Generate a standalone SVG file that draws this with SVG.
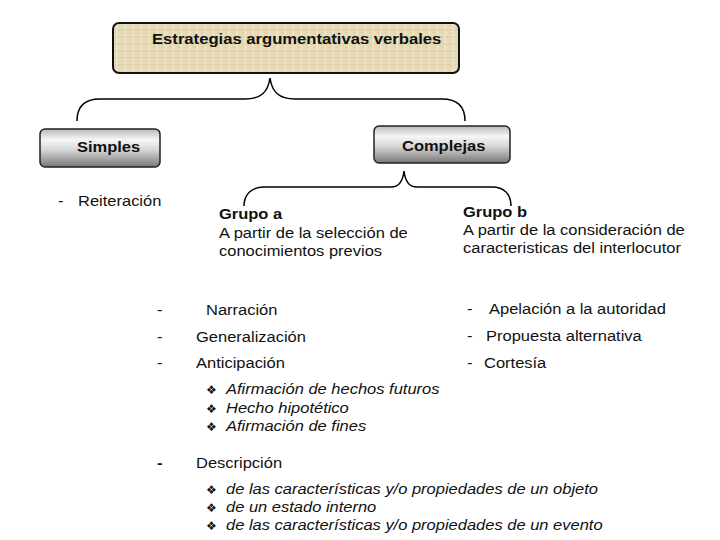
<svg xmlns="http://www.w3.org/2000/svg" width="720" height="540" viewBox="0 0 720 540">
<style>
text{font-family:"Liberation Sans",Arial,sans-serif;font-size:15px;fill:#111}
.b{font-weight:bold}
.i{font-style:italic}
.bul{font-family:"DejaVu Sans",sans-serif;font-size:12px}
.brace{fill:none;stroke:#000;stroke-width:1.5}
.gbox{fill:url(#grey);stroke:#222;stroke-width:1.5}
</style>
<defs>
<linearGradient id="grey" x1="0" y1="0" x2="0" y2="1">
<stop offset="0" stop-color="#b8b8b8"/>
<stop offset="0.28" stop-color="#f6f6f6"/>
<stop offset="0.55" stop-color="#d6d6d6"/>
<stop offset="1" stop-color="#777"/>
</linearGradient>
<pattern id="tex" width="8" height="7" patternUnits="userSpaceOnUse">
<rect width="8" height="7" fill="#e8dcb8"/>
<line x1="0" y1="2" x2="8" y2="2" stroke="#cdbb8c" stroke-width="1" opacity="0.6"/>
<line x1="5" y1="0" x2="5" y2="7" stroke="#f5eed9" stroke-width="1" opacity="0.8"/>
<line x1="1" y1="5" x2="4" y2="5" stroke="#d4c397" stroke-width="1" opacity="0.7"/>
</pattern>
</defs>
<rect width="720" height="540" fill="#fff"/>
<g id="connectors">
<path class="brace" d="M77,121 C77,106 85,99 100,99 L245,99 C261,99 268,92 270,78 C272,92 279,99 295,99 L442,99 C457,99 465,106 465,121"/>
<path class="brace" d="M244,206 C244,194 252,187 264,187 L391,187 C399,187 403,180 404,171 C405,180 409,187 417,187 L492,187 C504,187 511,194 511,206"/>
</g>
<g id="root">
<rect x="113" y="23" width="346" height="50" rx="6" fill="url(#tex)" stroke="#111" stroke-width="2"/>
<text class="b" transform="translate(152,44) scale(1.11,1)" font-size="14">Estrategias argumentativas verbales</text>
</g>
<g id="simples">
<rect class="gbox" x="40" y="129" width="120" height="38" rx="5"/>
<text class="b" transform="translate(77,152) scale(1.1,1)">Simples</text>
</g>
<g id="complejas">
<rect class="gbox" x="374" y="126" width="136" height="37" rx="5"/>
<text class="b" transform="translate(402,151) scale(1.1,1)">Complejas</text>
</g>
<g id="simples-list">
<text transform="translate(58,206) scale(1.1,1)">-</text>
<text transform="translate(78,206) scale(1.1,1)">Reiteración</text>
</g>
<g id="grupo-a">
<text class="b" transform="translate(219,219) scale(1.1,1)">Grupo a</text>
<text transform="translate(219,238) scale(1.1,1)">A partir de la selección de</text>
<text transform="translate(219,256) scale(1.1,1)">conocimientos previos</text>
</g>
<g id="grupo-b">
<text class="b" transform="translate(463,217) scale(1.1,1)">Grupo b</text>
<text transform="translate(463,235) scale(1.1,1)">A partir de la consideración de</text>
<text transform="translate(463,253) scale(1.1,1)">caracteristicas del interlocutor</text>
</g>
<g id="grupo-a-list">
<text transform="translate(157,315) scale(1.1,1)">-</text>
<text transform="translate(206,315) scale(1.1,1)">Narración</text>
<text transform="translate(157,342) scale(1.1,1)">-</text>
<text transform="translate(196,342) scale(1.1,1)">Generalización</text>
<text transform="translate(157,368) scale(1.1,1)">-</text>
<text transform="translate(196,368) scale(1.1,1)">Anticipación</text>
<text class="bul" x="206" y="394">❖</text>
<text class="i" transform="translate(226,394) scale(1.1,1)">Afirmación de hechos futuros</text>
<text class="bul" x="206" y="413">❖</text>
<text class="i" transform="translate(226,413) scale(1.1,1)">Hecho hipotético</text>
<text class="bul" x="206" y="431">❖</text>
<text class="i" transform="translate(226,431) scale(1.1,1)">Afirmación de fines</text>
<text class="b" transform="translate(157,468) scale(1.1,1)">-</text>
<text transform="translate(196,468) scale(1.1,1)">Descripción</text>
<text class="bul" x="206" y="494">❖</text>
<text class="i" transform="translate(226,494) scale(1.1,1)">de las características y/o propiedades de un objeto</text>
<text class="bul" x="206" y="512">❖</text>
<text class="i" transform="translate(226,512) scale(1.1,1)">de un estado interno</text>
<text class="bul" x="206" y="530">❖</text>
<text class="i" transform="translate(226,530) scale(1.1,1)">de las características y/o propiedades de un evento</text>
</g>
<g id="grupo-b-list">
<text transform="translate(467,314) scale(1.1,1)">-</text>
<text transform="translate(489,314) scale(1.1,1)">Apelación a la autoridad</text>
<text transform="translate(467,341) scale(1.1,1)">-</text>
<text transform="translate(486,341) scale(1.1,1)">Propuesta alternativa</text>
<text transform="translate(467,368) scale(1.1,1)">-</text>
<text transform="translate(484,368) scale(1.1,1)">Cortesía</text>
</g>
</svg>
